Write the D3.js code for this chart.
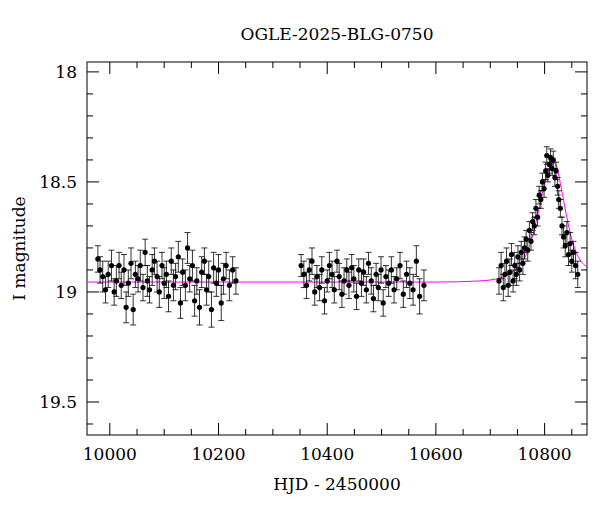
<!DOCTYPE html>
<html><head><meta charset="utf-8">
<script src="https://cdn.jsdelivr.net/npm/d3@7"></script>
<style>body{margin:0;background:#fff}text{font-family:"DejaVu Serif",serif}</style>
</head><body><svg id="c" width="600" height="512"></svg>
<script>
// observations
const hjd = [9978,9982,9987,9992,9997,10003,10008,10012,10017,10021,10026,10030,10034,10039,10043,10047,10052,10056,10061,10065,10069,10073,10078,10082,10087,10091,10096,10100,10104,10108,10113,10117,10121,10126,10130,10134,10139,10143,10147,10152,10156,10160,10165,10169,10174,10178,10182,10187,10191,10196,10200,10205,10209,10214,10220,10226,10232,
10352,10357,10362,10367,10372,10377,10381,10386,10390,10395,10400,10404,10409,10413,10418,10422,10427,10431,10436,10440,10445,10449,10454,10458,10463,10467,10472,10476,10481,10485,10490,10494,10499,10503,10508,10513,10518,10523,10528,10534,10540,10546,10552,10558,10564,10570,10578,
10716,10720,10724,10727,10730,10733,10736,10739,10742,10745,10748,10751,10754,10757,10760,10763,10766,10769,10772,10775,10778,10781,10784,10787,10790,10793,10796,10799,10802,10804,10806,10809,10811,10814,10816,10819,10821,10824,10826,10829,10832,10835,10838,10841,10844,10847,10850,10853,10857,10861];
const mag = [18.85,18.9,18.93,18.99,18.92,18.88,19.0,18.95,18.88,18.97,18.9,19.07,18.96,18.87,19.08,18.92,18.94,18.88,18.98,18.82,18.95,18.99,18.9,18.86,18.93,19.0,18.88,18.96,18.92,19.02,18.86,18.97,18.93,18.84,19.05,18.91,18.97,18.8,18.94,18.88,19.04,18.95,19.07,18.91,18.86,18.99,18.93,19.08,18.89,18.96,18.9,19.05,18.94,18.88,18.97,18.9,18.95,
18.88,18.92,18.97,18.9,18.86,19.0,18.93,18.98,18.9,19.04,18.95,18.88,18.92,18.99,18.86,18.93,19.01,18.95,18.9,18.97,18.89,18.94,19.02,18.9,18.96,18.91,18.99,18.87,18.95,19.03,18.92,18.98,18.9,19.05,18.93,18.96,18.9,18.99,18.94,18.88,19.01,18.92,18.96,18.99,18.86,19.02,18.97,
18.95,18.88,18.98,18.92,18.86,18.97,18.91,18.83,18.95,18.88,18.92,18.84,18.9,18.82,18.87,18.8,18.76,18.81,18.72,18.77,18.68,18.7,18.62,18.66,18.56,18.58,18.5,18.53,18.45,18.38,18.47,18.42,18.39,18.44,18.4,18.48,18.45,18.52,18.58,18.62,18.7,18.75,18.79,18.73,18.83,18.78,18.86,18.82,18.88,18.92];
const err = [0.06,0.06,0.07,0.06,0.06,0.07,0.06,0.07,0.06,0.06,0.07,0.07,0.06,0.07,0.07,0.06,0.06,0.07,0.06,0.06,0.07,0.06,0.07,0.06,0.07,0.07,0.06,0.07,0.06,0.07,0.06,0.07,0.06,0.07,0.07,0.06,0.07,0.07,0.06,0.07,0.07,0.06,0.08,0.07,0.06,0.07,0.07,0.08,0.07,0.06,0.07,0.08,0.07,0.06,0.07,0.06,0.06,
0.05,0.06,0.06,0.05,0.06,0.06,0.05,0.06,0.06,0.06,0.05,0.06,0.06,0.06,0.05,0.06,0.06,0.06,0.05,0.06,0.06,0.06,0.06,0.05,0.06,0.06,0.06,0.05,0.06,0.06,0.05,0.06,0.06,0.06,0.05,0.06,0.06,0.06,0.05,0.06,0.06,0.06,0.07,0.07,0.07,0.08,0.07,
0.06,0.06,0.06,0.05,0.06,0.05,0.06,0.05,0.05,0.06,0.05,0.05,0.05,0.05,0.05,0.05,0.04,0.05,0.04,0.04,0.04,0.04,0.04,0.04,0.04,0.04,0.04,0.04,0.04,0.04,0.03,0.04,0.04,0.03,0.04,0.04,0.04,0.04,0.04,0.04,0.04,0.05,0.05,0.05,0.05,0.05,0.05,0.05,0.06,0.06];
// model curve
const modelT = [9958,10600,10680,10720,10740,10760,10775,10790,10800,10808,10815,10822,10830,10840,10850,10860,10870,10878];
const modelM = [18.955,18.955,18.95,18.935,18.91,18.86,18.77,18.62,18.51,18.44,18.41,18.43,18.52,18.65,18.76,18.83,18.87,18.885];
const xTicks = [10000,10200,10400,10600,10800];
const yTicks = [18,18.5,19,19.5];

const svg = d3.select('#c');
const m = {l:87, r:587, t:62, b:435};
const x = d3.scaleLinear().domain([9958,10878]).range([m.l,m.r]);
const y = d3.scaleLinear().domain([17.955,19.65]).range([m.t,m.b]);

svg.append('rect').attr('x',m.l).attr('y',m.t).attr('width',m.r-m.l).attr('height',m.b-m.t)
  .attr('fill','none').attr('stroke','#000').attr('stroke-width',1);

// ticks
const xMinor = d3.range(10000,10878,50);
xMinor.forEach(v => {
  const len = xTicks.includes(v) ? 12 : 6;
  svg.append('line').attr('x1',x(v)).attr('x2',x(v)).attr('y1',m.b).attr('y2',m.b-len).attr('stroke','#000');
  svg.append('line').attr('x1',x(v)).attr('x2',x(v)).attr('y1',m.t).attr('y2',m.t+len).attr('stroke','#000');
});
const yMinor = d3.range(18,19.65,0.1).map(v => +v.toFixed(1));
yMinor.forEach(v => {
  const len = yTicks.includes(v) ? 12 : 6;
  svg.append('line').attr('x1',m.l).attr('x2',m.l+len).attr('y1',y(v)).attr('y2',y(v)).attr('stroke','#000');
  svg.append('line').attr('x1',m.r).attr('x2',m.r-len).attr('y1',y(v)).attr('y2',y(v)).attr('stroke','#000');
});
xTicks.forEach(v => svg.append('text').attr('x',x(v)).attr('y',m.b+25).attr('text-anchor','middle')
  .attr('font-size',17).text(v));
yTicks.forEach(v => svg.append('text').attr('x',m.l-10).attr('y',y(v)+6).attr('text-anchor','end')
  .attr('font-size',17).text(v));

svg.append('text').attr('x',(m.l+m.r)/2).attr('y',40).attr('text-anchor','middle').attr('font-size',17)
  .text('OGLE-2025-BLG-0750');
svg.append('text').attr('x',(m.l+m.r)/2).attr('y',490).attr('text-anchor','middle').attr('font-size',17)
  .text('HJD - 2450000');
svg.append('text').attr('transform',`translate(25,${(m.t+m.b)/2}) rotate(-90)`).attr('text-anchor','middle')
  .attr('font-size',17).text('I magnitude');

// model
const line = d3.line().x(d => x(d[0])).y(d => y(d[1])).curve(d3.curveMonotoneX);
svg.append('path').datum(modelT.map((t,i)=>[t,modelM[i]])).attr('d',line)
  .attr('fill','none').attr('stroke','#ff00ff').attr('stroke-width',1);

// points
const g = svg.append('g').attr('stroke','#000').attr('stroke-width',0.8);
hjd.forEach((t,i) => {
  const cx = x(t), y1 = y(mag[i]-err[i]), y2 = y(mag[i]+err[i]);
  g.append('line').attr('x1',cx).attr('x2',cx).attr('y1',y1).attr('y2',y2);
  g.append('line').attr('x1',cx-3).attr('x2',cx+3).attr('y1',y1).attr('y2',y1);
  g.append('line').attr('x1',cx-3).attr('x2',cx+3).attr('y1',y2).attr('y2',y2);
  svg.append('circle').attr('cx',cx).attr('cy',y(mag[i])).attr('r',2.6).attr('fill','#000');
});
</script></body></html>
